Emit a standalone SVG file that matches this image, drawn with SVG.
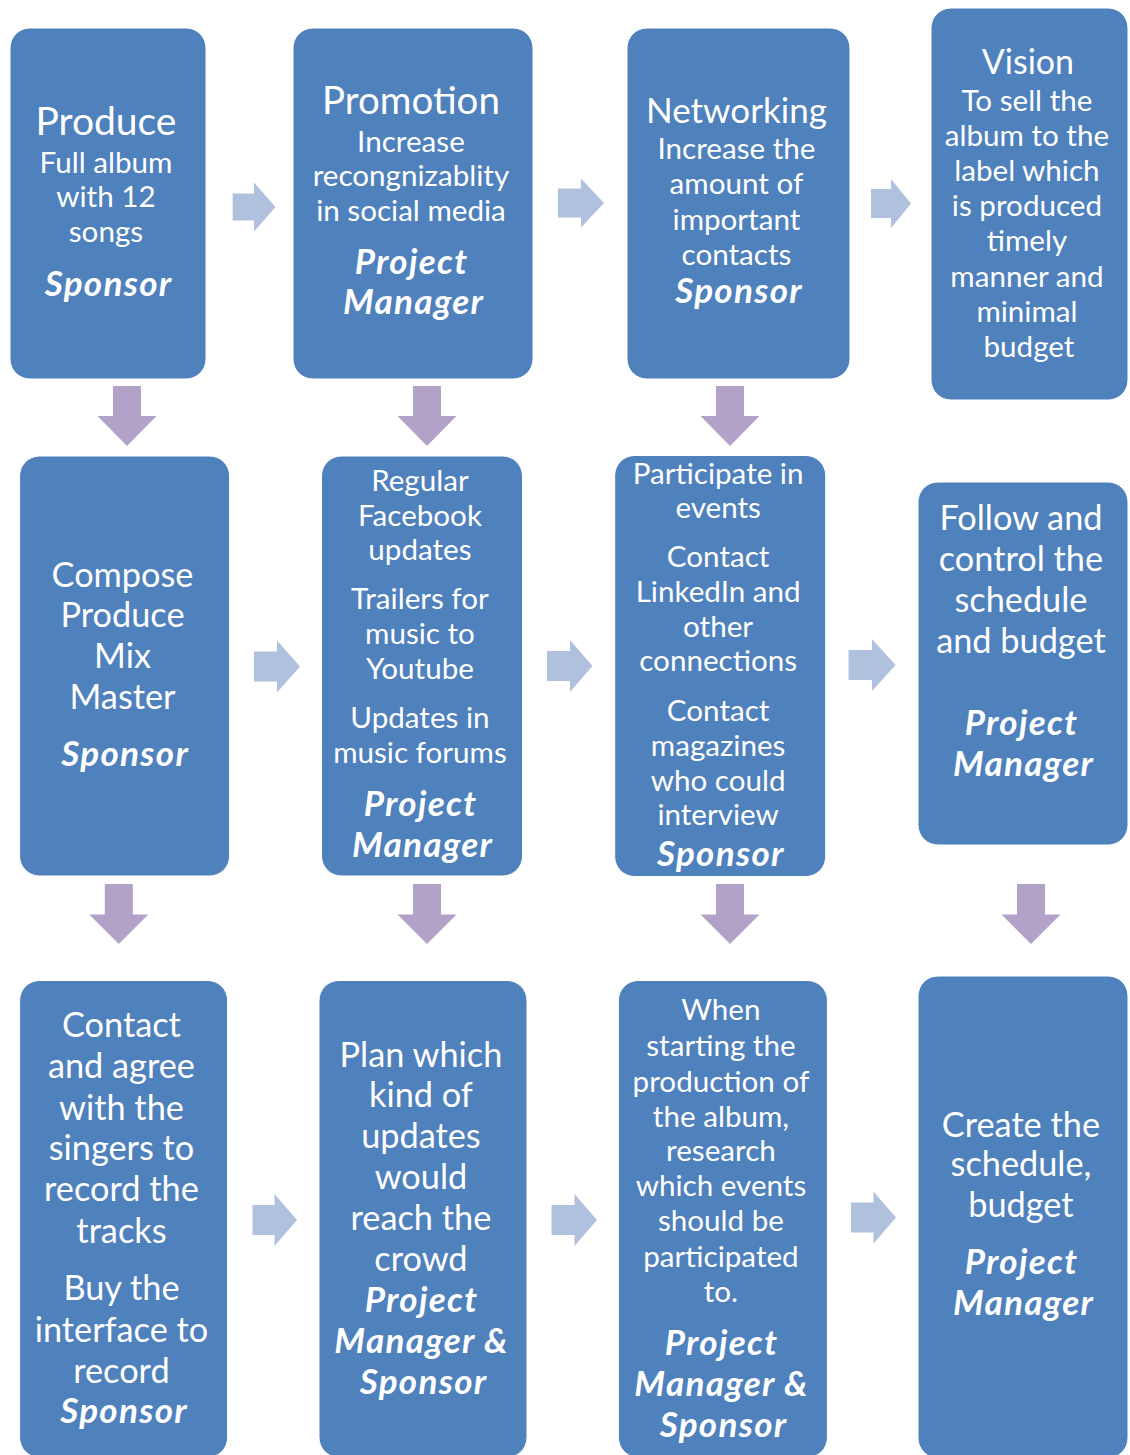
<svg xmlns="http://www.w3.org/2000/svg" width="1130" height="1455" viewBox="0 0 1130 1455">
  <style>
    .box { fill: #4f81bd; stroke: #ffffff; stroke-width: 1; }
    .ra { fill: #b0c1dd; }
    .da { fill: #b2a2c7; }
    text { fill: #ffffff; font-family: Lato, "Open Sans", "Liberation Sans", sans-serif; text-anchor: middle; }
    .t { font-size: 38.5px; }
    .m { font-size: 34.3px; }
    .b { font-size: 29.6px; }
    .r { font-size: 35px; font-weight: bold; font-style: italic; letter-spacing: 1.3px; }
  </style>
  <rect width="1130" height="1455" fill="#ffffff"/>

  <!-- connectors: pale blue arrows between columns, lavender arrows between rows -->
  <g id="connectors">
    <polygon class="ra" points="232.7,193.5 254,193.5 254,182.5 275.5,207 254,231.5 254,220.5 232.7,220.5"/>
    <polygon class="ra" points="558,188.5 581,188.5 581,178.5 604,203 581,227.5 581,217.5 558,217.5"/>
    <polygon class="ra" points="871,189 891,189 891,179 911,203.5 891,228 891,218 871,218"/>
    <polygon class="ra" points="254,651.5 277,651.5 277,640.5 300,666.5 277,692.5 277,681.5 254,681.5"/>
    <polygon class="ra" points="547,651 570,651 570,640 592.5,666 570,692 570,681 547,681"/>
    <polygon class="ra" points="848.5,650 872,650 872,639 895.5,665 872,691 872,680 848.5,680"/>
    <polygon class="ra" points="252.5,1205 274.5,1205 274.5,1194 297,1220 274.5,1246 274.5,1235 252.5,1235"/>
    <polygon class="ra" points="551.5,1205 574.5,1205 574.5,1194 597,1220 574.5,1246 574.5,1235 551.5,1235"/>
    <polygon class="ra" points="851,1202.5 873.5,1202.5 873.5,1191.5 896,1217.5 873.5,1243.5 873.5,1232.5 851,1232.5"/>

    <polygon class="da" points="113,386 141,386 141,416 156.5,416 127,446 97.5,416 113,416"/>
    <polygon class="da" points="413,386 441,386 441,416 456.5,416 427,446 397.5,416 413,416"/>
    <polygon class="da" points="716,386 744,386 744,416 759.5,416 730,446 700.5,416 716,416"/>
    <polygon class="da" points="104.8,884 132.8,884 132.8,914.5 148.3,914.5 118.8,944 89.3,914.5 104.8,914.5"/>
    <polygon class="da" points="413,884 441,884 441,914.5 456.5,914.5 427,944 397.5,914.5 413,914.5"/>
    <polygon class="da" points="716,884 744,884 744,914.5 759.5,914.5 730,944 700.5,914.5 716,914.5"/>
    <polygon class="da" points="1017,884 1045,884 1045,914.5 1060.5,914.5 1031,944 1001.5,914.5 1017,914.5"/>
  </g>

  <!-- top row -->
  <g id="produce">
    <rect class="box" x="10" y="28" width="196" height="351" rx="20"/>
    <text x="108">
      <tspan class="t" x="108" y="135" style="font-size:39px">Produce</tspan>
      <tspan class="b" x="108" y="173">Full album</tspan>
      <tspan class="b" x="108" y="207">with 12</tspan>
      <tspan class="b" x="108" y="242">songs</tspan>
      <tspan class="r" x="108.6" y="296">Sponsor</tspan>
    </text>
  </g>

  <g id="promotion">
    <rect class="box" x="293" y="28" width="240" height="351" rx="20"/>
    <text x="413">
      <tspan class="t" x="413" y="114">Promotion</tspan>
      <tspan class="b" x="413" y="152">Increase</tspan>
      <tspan class="b" x="413" y="186">recongnizablity</tspan>
      <tspan class="b" x="413" y="221">in social media</tspan>
      <tspan class="r" x="413.6" y="274">Project</tspan>
      <tspan class="r" x="413.6" y="314">Manager</tspan>
    </text>
  </g>

  <g id="networking">
    <rect class="box" x="627" y="28" width="223" height="351" rx="20"/>
    <text x="738.5">
      <tspan class="t" x="738.5" y="123" style="font-size:35px">Networking</tspan>
      <tspan class="b" x="738.5" y="159">Increase the</tspan>
      <tspan class="b" x="738.5" y="194">amount of</tspan>
      <tspan class="b" x="738.5" y="230">important</tspan>
      <tspan class="b" x="738.5" y="265">contacts</tspan>
      <tspan class="r" x="739.1" y="303">Sponsor</tspan>
    </text>
  </g>

  <g id="vision">
    <rect class="box" x="931" y="8" width="197" height="392" rx="20"/>
    <text x="1029">
      <tspan class="t" x="1030" y="74" style="font-size:34px">Vision</tspan>
      <tspan class="b" x="1029" y="111">To sell the</tspan>
      <tspan class="b" x="1029" y="146">album to the</tspan>
      <tspan class="b" x="1029" y="181">label which</tspan>
      <tspan class="b" x="1029" y="216">is produced</tspan>
      <tspan class="b" x="1029" y="251">timely</tspan>
      <tspan class="b" x="1029" y="287">manner and</tspan>
      <tspan class="b" x="1029" y="322">minimal</tspan>
      <tspan class="b" x="1029" y="357">budget</tspan>
    </text>
  </g>

  <!-- middle row -->
  <g id="compose">
    <rect class="box" x="19.6" y="456" width="210" height="420" rx="20"/>
    <text x="124.6">
      <tspan class="m" x="124.6" y="587">Compose</tspan>
      <tspan class="m" x="124.6" y="627">Produce</tspan>
      <tspan class="m" x="124.6" y="668">Mix</tspan>
      <tspan class="m" x="124.6" y="709">Master</tspan>
      <tspan class="r" x="125.2" y="766">Sponsor</tspan>
    </text>
  </g>

  <g id="updates">
    <rect class="box" x="321.5" y="456" width="201" height="420" rx="20"/>
    <text x="422">
      <tspan class="b" x="422" y="491">Regular</tspan>
      <tspan class="b" x="422" y="526">Facebook</tspan>
      <tspan class="b" x="422" y="560">updates</tspan>
      <tspan class="b" x="422" y="609">Trailers for</tspan>
      <tspan class="b" x="422" y="644">music to</tspan>
      <tspan class="b" x="422" y="679">Youtube</tspan>
      <tspan class="b" x="422" y="728">Updates in</tspan>
      <tspan class="b" x="422" y="763">music forums</tspan>
      <tspan class="r" x="422.6" y="816">Project</tspan>
      <tspan class="r" x="422.6" y="857">Manager</tspan>
    </text>
  </g>

  <g id="participate">
    <rect class="box" x="614.7" y="455.5" width="211" height="421" rx="20"/>
    <text x="720.2">
      <tspan class="b" x="720.2" y="484">Participate in</tspan>
      <tspan class="b" x="720.2" y="518">events</tspan>
      <tspan class="b" x="720.2" y="567">Contact</tspan>
      <tspan class="b" x="720.2" y="602">LinkedIn and</tspan>
      <tspan class="b" x="720.2" y="637">other</tspan>
      <tspan class="b" x="720.2" y="671">connections</tspan>
      <tspan class="b" x="720.2" y="721">Contact</tspan>
      <tspan class="b" x="720.2" y="756">magazines</tspan>
      <tspan class="b" x="720.2" y="791">who could</tspan>
      <tspan class="b" x="720.2" y="825">interview</tspan>
      <tspan class="r" x="720.8" y="866">Sponsor</tspan>
    </text>
  </g>

  <g id="follow">
    <rect class="box" x="918" y="482" width="210" height="363" rx="20"/>
    <text x="1023">
      <tspan class="m" x="1023" y="530">Follow and</tspan>
      <tspan class="m" x="1023" y="571">control the</tspan>
      <tspan class="m" x="1023" y="612">schedule</tspan>
      <tspan class="m" x="1023" y="653">and budget</tspan>
      <tspan class="r" x="1023.6" y="735">Project</tspan>
      <tspan class="r" x="1023.6" y="776">Manager</tspan>
    </text>
  </g>

  <!-- bottom row -->
  <g id="contact">
    <rect class="box" x="19.6" y="980.5" width="208" height="477" rx="20"/>
    <text x="123.5">
      <tspan class="m" x="123.5" y="1037">Contact</tspan>
      <tspan class="m" x="123.5" y="1078">and agree</tspan>
      <tspan class="m" x="123.5" y="1120">with the</tspan>
      <tspan class="m" x="123.5" y="1160">singers to</tspan>
      <tspan class="m" x="123.5" y="1201">record the</tspan>
      <tspan class="m" x="123.5" y="1243">tracks</tspan>
      <tspan class="m" x="123.5" y="1300">Buy the</tspan>
      <tspan class="m" x="123.5" y="1342">interface to</tspan>
      <tspan class="m" x="123.5" y="1383">record</tspan>
      <tspan class="r" x="124.1" y="1423">Sponsor</tspan>
    </text>
  </g>

  <g id="plan">
    <rect class="box" x="319" y="980.5" width="208" height="477" rx="20"/>
    <text x="423">
      <tspan class="m" x="423" y="1067">Plan which</tspan>
      <tspan class="m" x="423" y="1107">kind of</tspan>
      <tspan class="m" x="423" y="1148">updates</tspan>
      <tspan class="m" x="423" y="1189">would</tspan>
      <tspan class="m" x="423" y="1230">reach the</tspan>
      <tspan class="m" x="423" y="1271">crowd</tspan>
      <tspan class="r" x="423.6" y="1312">Project</tspan>
      <tspan class="r" x="423.6" y="1353">Manager &amp;</tspan>
      <tspan class="r" x="423.6" y="1394">Sponsor</tspan>
    </text>
  </g>

  <g id="research">
    <rect class="box" x="618.4" y="980.5" width="209" height="477" rx="20"/>
    <text x="723">
      <tspan class="b" x="723" y="1020">When</tspan>
      <tspan class="b" x="723" y="1056">starting the</tspan>
      <tspan class="b" x="723" y="1092">production of</tspan>
      <tspan class="b" x="723" y="1127">the album,</tspan>
      <tspan class="b" x="723" y="1161">research</tspan>
      <tspan class="b" x="723" y="1196">which events</tspan>
      <tspan class="b" x="723" y="1231">should be</tspan>
      <tspan class="b" x="723" y="1267">participated</tspan>
      <tspan class="b" x="723" y="1302">to.</tspan>
      <tspan class="r" x="723.6" y="1355">Project</tspan>
      <tspan class="r" x="723.6" y="1396">Manager &amp;</tspan>
      <tspan class="r" x="723.6" y="1437">Sponsor</tspan>
    </text>
  </g>

  <g id="create">
    <rect class="box" x="918" y="976" width="210" height="482" rx="20"/>
    <text x="1023">
      <tspan class="m" x="1023" y="1137">Create the</tspan>
      <tspan class="m" x="1023" y="1176">schedule,</tspan>
      <tspan class="m" x="1023" y="1217">budget</tspan>
      <tspan class="r" x="1023.6" y="1274">Project</tspan>
      <tspan class="r" x="1023.6" y="1315">Manager</tspan>
    </text>
  </g>
</svg>
